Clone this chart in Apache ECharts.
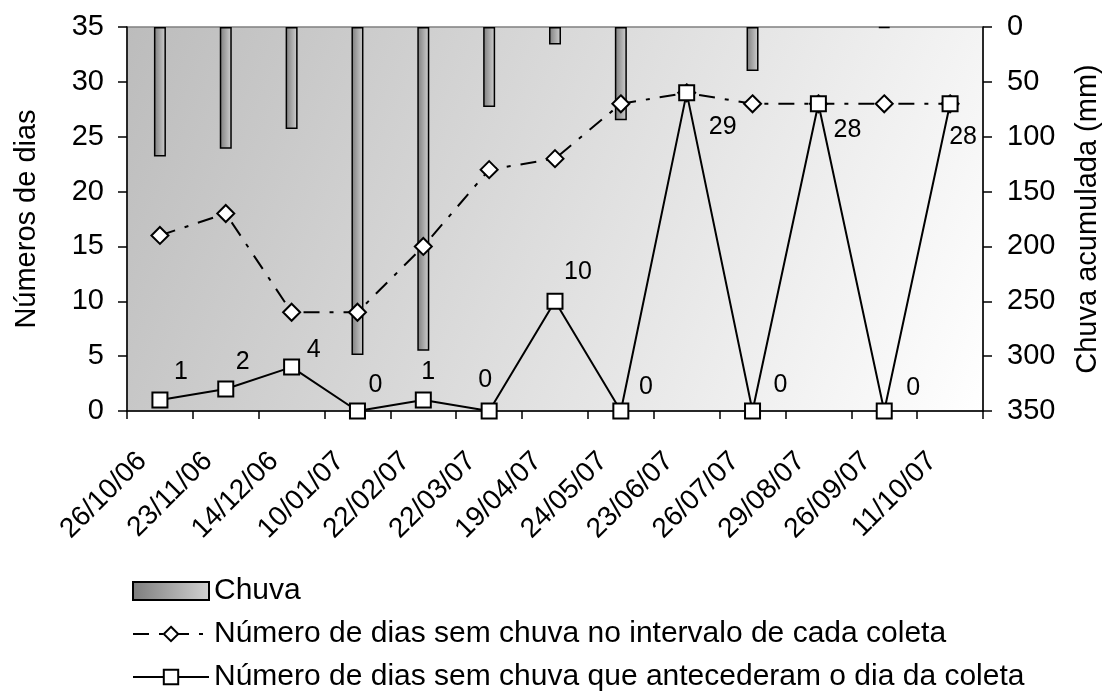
<!DOCTYPE html>
<html>
<head>
<meta charset="utf-8">
<script src="https://cdn.jsdelivr.net/npm/echarts@6/dist/echarts.min.js"></script>
<style>
  html, body { margin: 0; padding: 0; background: #fff; }
  #chart { width: 1103px; height: 694px; }
</style>
</head>
<body>
<div id="chart"></div>
<script>
var datas = ["26/10/06", "23/11/06", "14/12/06", "10/01/07", "22/02/07", "22/03/07", "19/04/07",
  "24/05/07", "23/06/07", "26/07/07", "29/08/07", "26/09/07", "11/10/07"];
// chuva acumulada (mm), eixo direito invertido
var chuva = [118, 111, 93, 299, 295, 73, 16, 85, 0, 40, 0, 1, 0];
// dias sem chuva no intervalo de cada coleta
var diasIntervalo = [16, 18, 9, 9, 15, 22, 23, 28, 29, 28, 28, 28, 28];
// dias sem chuva que antecederam a coleta
var diasAntes = [1, 2, 4, 0, 1, 0, 10, 0, 29, 0, 28, 0, 28];

// deslocamento dos rotulos (px) - so estilo
var labelOffsets = [[21, -28], [17, -27], [22, -17], [18, -26], [5, -28], [-4, -31], [23, -29],
  [25, -24], [36, 34], [28, -26], [29, 26], [29, -23], [13, 33]];

var fonte = "Liberation Sans, Arial, sans-serif";

var chart = echarts.init(document.getElementById("chart"));

var option = {
  backgroundColor: "#ffffff",
  textStyle: { fontFamily: fonte, color: "#000" },
  grid: {
    left: 127,
    right: 120,
    top: 27,
    bottom: 283,
    show: true,
    borderColor: "#808080",
    borderWidth: 1.5,
    backgroundColor: new echarts.graphic.LinearGradient(0, 0, 1, 1, [
      { offset: 0, color: "#bcbcbc" },
      { offset: 1, color: "#ffffff" }
    ]),
    outerBoundsMode: "none"
  },
  legend: {
    orient: "vertical",
    left: 132,
    top: 575,
    height: 130,
    padding: 0,
    itemWidth: 76,
    itemHeight: 18,
    itemGap: 11,
    textStyle: { fontSize: 30, lineHeight: 32, color: "#000", fontFamily: fonte },
    data: [
      { name: "Chuva", icon: "rect" },
      "Número de dias sem chuva no intervalo de cada coleta",
      "Número de dias sem chuva que antecederam o dia da coleta"
    ]
  },
  xAxis: {
    type: "category",
    data: datas,
    boundaryGap: true,
    axisLine: { lineStyle: { color: "#000", width: 1.5 } },
    axisTick: { show: true, length: 8, alignWithLabel: false, lineStyle: { color: "#000", width: 1.5 } },
    axisLabel: {
      interval: 0,
      rotate: 45,
      margin: 28,
      padding: [0, 25, 0, 0],
      fontSize: 28,
      color: "#000",
      fontFamily: fonte
    },
    splitLine: { show: false }
  },
  yAxis: [
    {
      type: "value",
      min: 0,
      max: 35,
      interval: 5,
      name: "Números de dias",
      nameLocation: "middle",
      nameRotate: 90,
      nameGap: 86,
      nameTextStyle: { fontSize: 29, color: "#000", fontFamily: fonte },
      axisLine: { show: true, lineStyle: { color: "#000", width: 1.5 } },
      axisTick: { show: true, length: 9, lineStyle: { color: "#000", width: 1.5 } },
      axisLabel: { margin: 23, fontSize: 29, color: "#000", fontFamily: fonte },
      splitLine: { show: false }
    },
    {
      type: "value",
      min: 0,
      max: 350,
      interval: 50,
      inverse: true,
      position: "right",
      name: "Chuva acumulada (mm)",
      nameLocation: "middle",
      nameRotate: 90,
      nameGap: 90,
      nameTextStyle: { fontSize: 29, color: "#000", fontFamily: fonte },
      axisLine: { show: true, lineStyle: { color: "#000", width: 1.5 } },
      axisTick: { show: true, length: 9, lineStyle: { color: "#000", width: 1.5 } },
      axisLabel: { margin: 24, fontSize: 29, color: "#000", fontFamily: fonte },
      splitLine: { show: false }
    }
  ],
  series: [
    {
      name: "Chuva",
      type: "bar",
      yAxisIndex: 1,
      barWidth: 12,
      z: 2,
      itemStyle: {
        color: new echarts.graphic.LinearGradient(0, 0, 1, 0, [
          { offset: 0, color: "#7c7c7c" },
          { offset: 1, color: "#d2d2d2" }
        ]),
        borderColor: "#000",
        borderWidth: 1.5
      },
      // sem barra onde nao choveu
      data: chuva.map(function (v) { return v === 0 ? "-" : v; })
    },
    {
      name: "Número de dias sem chuva no intervalo de cada coleta",
      type: "line",
      yAxisIndex: 0,
      z: 3,
      symbol: "diamond",
      symbolSize: [17, 17],
      showAllSymbol: true,
      lineStyle: { color: "#000", width: 2, type: [16, 10, 4, 10] },
      itemStyle: { color: "#fff", borderColor: "#000", borderWidth: 2 },
      data: diasIntervalo
    },
    {
      name: "Número de dias sem chuva que antecederam o dia da coleta",
      type: "line",
      yAxisIndex: 0,
      z: 4,
      symbol: "rect",
      symbolSize: 15,
      showAllSymbol: true,
      lineStyle: { color: "#000", width: 2 },
      itemStyle: { color: "#fff", borderColor: "#000", borderWidth: 2 },
      data: diasAntes.map(function (v, i) {
        return {
          value: v,
          label: {
            show: true,
            position: "inside",
            offset: labelOffsets[i],
            fontSize: 25,
            color: "#000",
            fontFamily: fonte
          }
        };
      })
    }
  ]
};

chart.setOption(option);
</script>
</body>
</html>
